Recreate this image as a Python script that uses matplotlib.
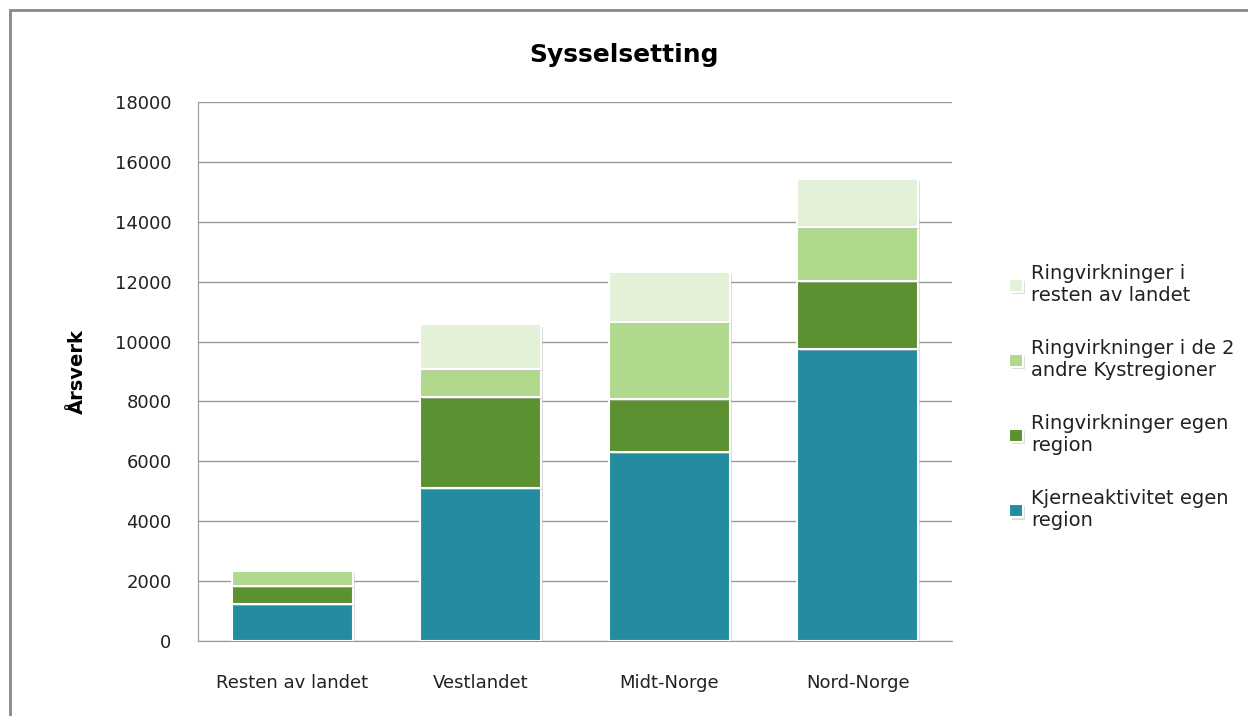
import matplotlib
matplotlib.use('Agg')
import matplotlib.pyplot as plt
import matplotlib.patheffects as pe
import numpy as np

categories = ['Resten av landet', 'Vestlandet', 'Midt-Norge', 'Nord-Norge']
kjerne = [1250, 5100, 6300, 9750]
ring_egen = [600, 3050, 1780, 2280]
ring_kyst = [500, 920, 2560, 1810]
ring_resten = [0, 1500, 1680, 1580]

labels = ['Kjerneaktivitet egen\nregion', 'Ringvirkninger egen\nregion',
          'Ringvirkninger i de 2\nandre Kystregioner', 'Ringvirkninger i\nresten av landet']
colors = ['#238D9F', '#5B9130', '#B0D98D', '#E3F1D9']

plt.rcParams['font.family'] = ['DejaVu Sans']

fig = plt.figure(figsize=(12.48, 7.16), dpi=100)
ax = fig.add_axes([198 / 1248, 75 / 716, 754 / 1248, 539 / 716])

x = np.arange(len(categories))
bottom = np.zeros(len(categories))
shadow = [pe.SimplePatchShadow(offset=(1.5, -1.5), shadow_rgbFace='#bbbbbb', alpha=0.5), pe.Normal()]
handles = []
for vals, lab, col in zip([kjerne, ring_egen, ring_kyst, ring_resten], labels, colors):
    bars = ax.bar(x, vals, 0.64, bottom=bottom, color=col, edgecolor='white', linewidth=1.5,
                  label=lab, zorder=3)
    for b in bars:
        b.set_path_effects(shadow)
    handles.append(bars)
    bottom += np.array(vals)

ax.set_ylim(0, 18000)
ax.set_xlim(-0.5, 3.5)
ax.set_yticks(range(0, 18001, 2000))
ax.set_xticks(x)
ax.set_xticklabels(categories)
ax.tick_params(axis='both', labelsize=13, colors='#222222', length=0)
ax.tick_params(axis='x', pad=24)
ax.tick_params(axis='y', pad=19)
ax.grid(axis='y', color='#999999', linewidth=1, zorder=0)
for s in ['top', 'right']:
    ax.spines[s].set_visible(False)
for s in ['left', 'bottom']:
    ax.spines[s].set_color('#999999')

ax.set_ylabel('Årsverk', fontsize=14, fontweight='bold', labelpad=20)
fig.suptitle('Sysselsetting', fontsize=18, fontweight='bold', y=0.94)

leg = fig.legend(handles[::-1], labels[::-1], loc='center left', bbox_to_anchor=(992 / 1248, 0.445),
                 frameon=False, fontsize=14, handlelength=0.7, handleheight=0.7, handletextpad=0.4,
                 labelspacing=1.75)
for t in leg.get_texts():
    t.set_color('#222222')

fig.patches.append(plt.Rectangle((10 / 1248, -0.05), 1.2, (716 - 10) / 716 + 0.05,
                                 transform=fig.transFigure, fill=False,
                                 edgecolor='#888888', linewidth=2))

fig.savefig('out.png', dpi=100)
